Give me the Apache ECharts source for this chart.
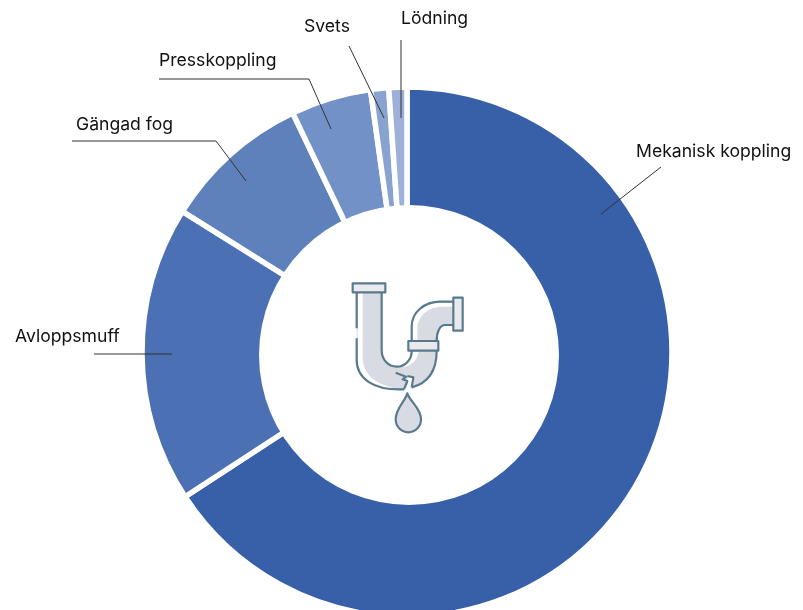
<!DOCTYPE html>
<html>
<head>
<meta charset="utf-8">
<style>
  html, body { margin: 0; padding: 0; background: #fff; }
  #chart { width: 803px; height: 610px; }
</style>
<script src="https://cdn.jsdelivr.net/npm/echarts@6/dist/echarts.min.js"></script>
</head>
<body>
<div id="chart"></div>
<script>
const categories = ["Mekanisk koppling", "Avloppsmuff", "Gängad fog", "Presskoppling", "Svets", "Lödning"];
const shares = [65.8, 18.1, 9, 4.9, 1.1, 1.1];
const colors = ["#3760a9", "#4b70b3", "#5e80bb", "#7291c6", "#88a3cf", "#9db0d8"];

// label position and leader line for each slice, in page pixels
const labelBoxes = [[636, 143], [15, 328], [76, 116], [159, 52], [304, 18], [401, 10]];
const leaderLines = [
  [[601, 214], [661, 167], [661, 167]],
  [[172, 354], [94, 354], [94, 354]],
  [[246, 181], [216, 141], [72, 141]],
  [[331, 129], [309, 79], [159, 79]],
  [[384, 118], [349, 46], [349, 46]],
  [[401, 118], [401, 40], [401, 40]]
];

const STROKE = "#587a8c";
const FILL = "#d9dbe2";

var chart = echarts.init(document.getElementById("chart"));

// the graphic component has no plain path type, so each svg path gets a registered shape
var iconCount = 0;
function iconPath(d, fill, stroke, width) {
  var name = "pipeIcon" + iconCount++;
  echarts.graphic.registerShape(name, echarts.graphic.extendPath(d, {}));
  return {
    type: name,
    z: 10,
    style: { fill: fill, stroke: stroke, lineWidth: width || 0, lineJoin: "round" }
  };
}

// pipe icon, drawn at 3x and scaled down
var pipeIcon = {
  type: "group",
  x: 330,
  y: 270,
  scaleX: 1 / 3,
  scaleY: 1 / 3,
  silent: true,
  children: [
    iconPath("M80 67V270C80 325 130 362 222 358L245 352C290 340 320 310 320 240V213C320 185 330 165 345 165H370V95H330C285 95 245 125 245 170V242C245 270 225 290 200 290C175 290 155 270 155 240V67Z", FILL, "none"),
    iconPath("M83 67V270C83 322 128 356 200 356C140 345 98 315 98 262V67Z", "#fff", "none"),
    iconPath("M248 213V170C248 128 287 98 330 98H370V110H335C290 112 262 140 262 180V213Z", "#fff", "none"),
    iconPath("M250 245C248 268 232 284 212 292C240 292 262 272 266 245Z", "#fff", "none"),
    iconPath("M197 308L228 320L238 322L226 332L236 338L224 358L245 352L250 322L228 320Z", "#fff", "none"),
    iconPath("M80 67V175M80 205V270C80 325 130 362 222 358", "none", STROKE, 6.5),
    iconPath("M155 67V240C155 270 175 290 200 290C225 290 245 270 245 242", "none", STROKE, 6.5),
    iconPath("M245 213V170C245 125 285 95 330 95H370M370 165H345C330 165 320 185 320 213M320 242C320 310 290 340 245 352", "none", STROKE, 6.5),
    iconPath("M197 308L228 320L218 328L232 333L222 358M245 352L250 322L232 318", "none", STROKE, 6.5),
    iconPath("M68 40H166V67H68Z", "#e9eaee", STROKE, 6.5),
    iconPath("M235 213H325V242H235Z", "#e9eaee", STROKE, 6.5),
    iconPath("M370 83H398V182H370Z", "#e9eaee", STROKE, 6.5),
    iconPath("M232 370C225 395 197 415 197 448C197 470 214 487 235 487C256 487 273 470 273 448C273 415 240 395 232 370Z", FILL, STROKE, 6.5)
  ]
};

// the hole sits slightly off the ring's centre in the original
var hole = {
  type: "circle",
  z: 9,
  silent: true,
  shape: { cx: 409, cy: 355, r: 150 },
  style: { fill: "#fff" }
};

chart.setOption({
  animation: false,
  backgroundColor: "#fff",
  graphic: [hole, pipeIcon],
  series: [
    {
      type: "pie",
      z: 2,
      center: [407, 352],
      radius: [140, 265],
      startAngle: 90,
      silent: true,
      itemStyle: { borderColor: "#fff", borderWidth: 5.5 },
      label: { show: false },
      labelLine: { show: false },
      emphasis: { disabled: true },
      data: categories.map(function (name, i) {
        return { name: name, value: shares[i], itemStyle: { color: colors[i] } };
      })
    },
    // invisible copy on top, so the leader lines run over the slices
    {
      type: "pie",
      z: 3,
      center: [407, 352],
      radius: [140, 265],
      startAngle: 90,
      silent: true,
      avoidLabelOverlap: false,
      itemStyle: { color: "rgba(0,0,0,0)", borderWidth: 0 },
      label: {
        show: true,
        color: "#111",
        fontFamily: "Inter",
        fontSize: 17.6,
        formatter: "{b}"
      },
      labelLine: { show: true, lineStyle: { color: "#333", width: 1 } },
      labelLayout: function (params) {
        return {
          x: labelBoxes[params.dataIndex][0],
          y: labelBoxes[params.dataIndex][1],
          align: "left",
          verticalAlign: "top",
          labelLinePoints: leaderLines[params.dataIndex]
        };
      },
      emphasis: { disabled: true },
      data: categories.map(function (name, i) {
        return { name: name, value: shares[i] };
      })
    }
  ]
});
</script>
</body>
</html>
